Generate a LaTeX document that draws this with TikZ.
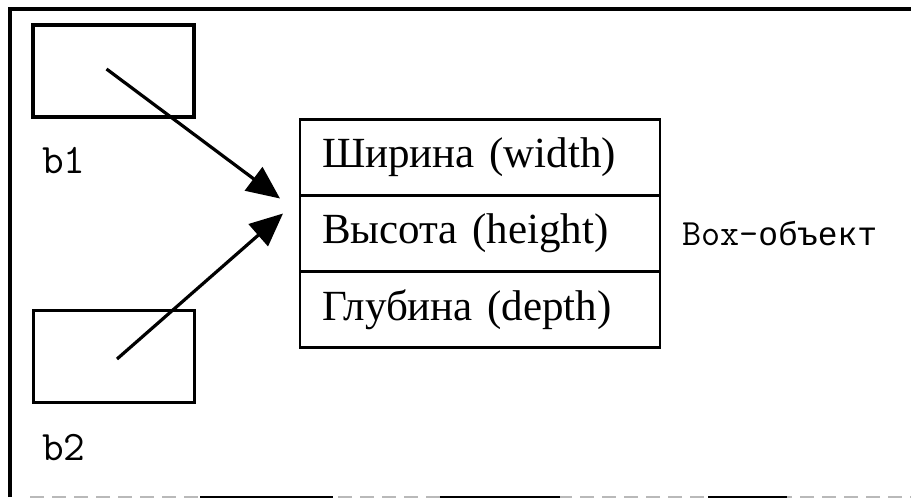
\documentclass[tikz,border=0pt]{standalone}
\usepackage{fontspec}
\setmainfont{Liberation Serif}
\setmonofont{Latin Modern Mono}
\newfontfamily\cyrmono{Liberation Mono}
\usetikzlibrary{arrows.meta}

\tikzset{
  frameline/.style={line width=3.5pt, line cap=butt},
  varbox/.style={draw, line width=3.5pt, rectangle, minimum width=161pt,
    minimum height=92pt, inner sep=0pt, outer sep=0pt},
  varname/.style={font=\ttfamily\fontsize{42}{44}\selectfont, inner sep=0pt,
    anchor=base west},
  fieldrow/.style={draw, line width=2.6pt, rectangle, inner xsep=22pt,
    inner ysep=0pt, outer sep=0pt, text width=316pt, align=left,
    minimum height=76pt, font=\fontsize{43}{48}\selectfont},
  objlabel/.style={font=\ttfamily\fontsize{37}{40}\selectfont, inner sep=0pt,
    anchor=base west},
  ref/.style={line width=3.2pt, -{Triangle[length=33pt, width=29pt]}},
}

\begin{document}
\begin{tikzpicture}[x=1pt, y=-1pt]
  \useasboundingbox (0,0) rectangle (911,499);

  % outer frame
  \draw[frameline] (10,497) -- (10,9) -- (911,9);
  \draw[line width=1.4pt, gray!55, dash pattern=on 14pt off 8pt] (30,497) -- (911,497);
  \foreach \a/\b in {200/333, 440/560, 708/787}
    \draw[line width=2.6pt] (\a,497) -- (\b,497);

  % variables
  \node[varbox] (b1) at (113.5,71) {};
  \node[varname] (b1name) at (42,173) {b1};
  \node[varbox] (b2) at (114,356.5) {};
  \node[varname] (b2name) at (42,460) {b2};

  % the Box object and its fields
  \node[fieldrow] (r1) at (480,157.5) {Ширина (width)};
  \node[fieldrow, anchor=north] (r2) at (r1.south) {Высота (height)};
  \node[fieldrow, anchor=north] (r3) at (r2.south) {Глубина (depth)};
  \node[objlabel] (obj) at (682,245) {Box-{\cyrmono\fontsize{33}{36}\selectfont объект}};

  % references from the variables to the object
  \coordinate (t1) at ([shift={(-20,3)}]r1.south west);
  \coordinate (t2) at ([shift={(-17,18)}]r1.south west);
  \draw[ref] ([shift={(-7,-2)}]b1.center) -- (t1);
  \draw[ref] ([shift={(3,2.5)}]b2.center) -- (t2);
\end{tikzpicture}
\end{document}
